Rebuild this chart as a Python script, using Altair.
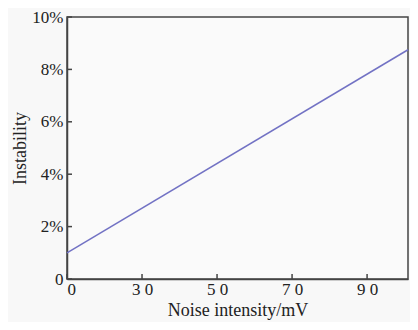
import altair as alt
import pandas as pd

noise = [0, 100]
instability = [1.0, 8.75]
x_tick_pos = [0, 22, 44, 66, 88]
x_tick_labels = ["0", "3 0", "5 0", "7 0", "9 0"]
y_ticks = [0, 2, 4, 6, 8, 10]

W, H = 341, 262

df = pd.DataFrame({"noise": noise, "instability": instability})
xt = pd.DataFrame({"pos": x_tick_pos})
yt = pd.DataFrame({"val": y_ticks})

lab_map = "{" + ",".join(f"'{p}':'{l}'" for p, l in zip(x_tick_pos, x_tick_labels)) + "}"

xscale = alt.Scale(domain=[0, 100], nice=False)
yscale = alt.Scale(domain=[0, 10], nice=False)

line = alt.Chart(df).mark_line(color="#7272c4", strokeWidth=1.5).encode(
    x=alt.X("noise:Q", scale=xscale,
            axis=alt.Axis(values=x_tick_pos, labelExpr=f"{lab_map}[datum.value]",
                          title="Noise intensity/mV", grid=False, ticks=False,
                          labelPadding=2, titlePadding=4)),
    y=alt.Y("instability:Q", scale=yscale,
            axis=alt.Axis(values=y_ticks,
                          labelExpr="datum.value == 0 ? '0' : datum.value + '%'",
                          title="Instability", grid=False, ticks=False,
                          labelPadding=4, titlePadding=2)),
)

xticks = alt.Chart(xt).mark_rule(color="#444444", strokeWidth=1.5).encode(
    x=alt.X("pos:Q", scale=xscale), y=alt.value(H), y2=alt.value(H - 5)
)
yticks = alt.Chart(yt).mark_rule(color="#444444", strokeWidth=1.5).encode(
    y=alt.Y("val:Q", scale=yscale), x=alt.value(0), x2=alt.value(5)
)

chart = alt.layer(line, xticks, yticks).properties(
    width=W, height=H,
    background="#f8f8f8",
    padding={"left": 59, "top": 9, "right": 2, "bottom": 43},
    autosize=alt.AutoSizeParams(type="none"),
).configure_view(
    stroke="#444444", strokeWidth=1.5, fill="#fafafa"
).configure_axis(
    domainColor="#444444", domainWidth=1.5,
    labelFont="Liberation Serif", titleFont="Liberation Serif",
    labelFontSize=17, titleFontSize=18, labelColor="#222222", titleColor="#222222",
    titleFontWeight="normal",
)

chart.save("out.html", embed_options={"renderer": "svg", "actions": False})
